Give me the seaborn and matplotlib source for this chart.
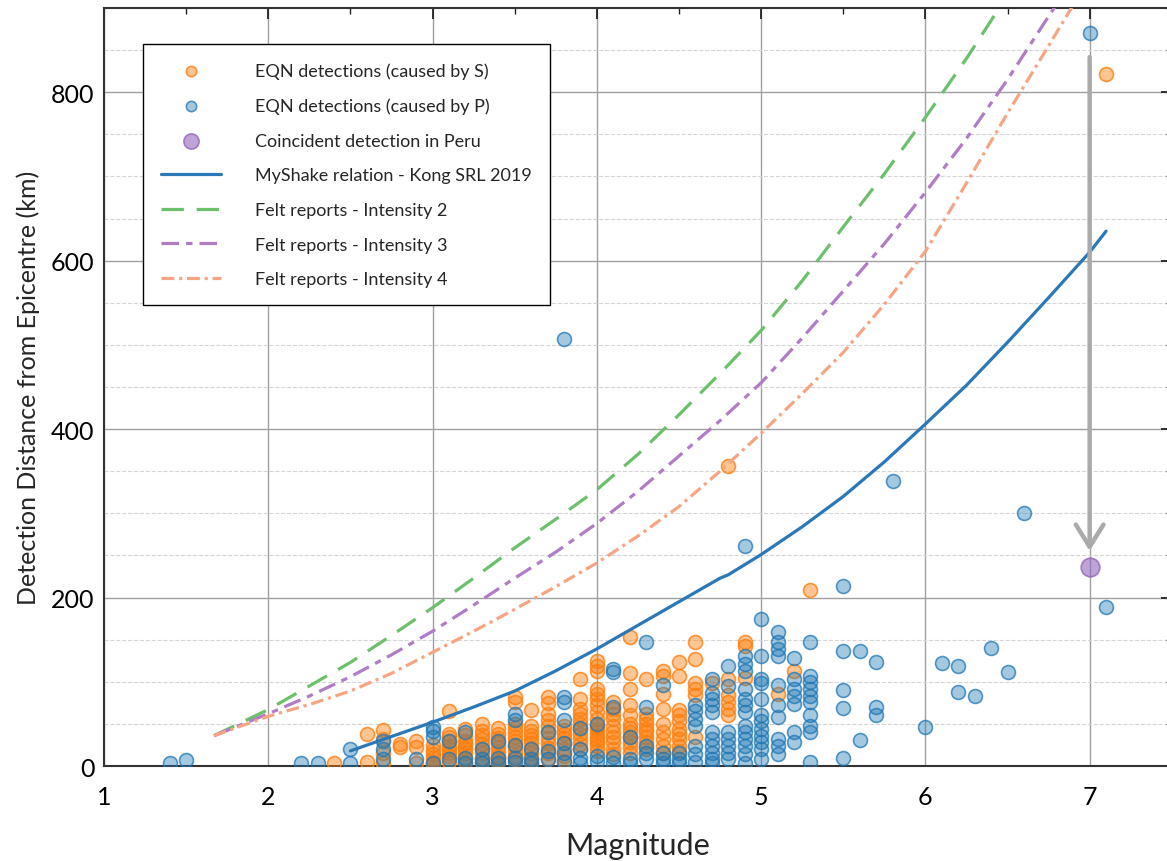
import pandas as pd
import matplotlib
matplotlib.use("Agg")
import matplotlib.pyplot as plt
from matplotlib.ticker import MultipleLocator
import seaborn as sns

# EQN detections caused by S waves: magnitude -> detection distances (km)
s_columns = {
    2.4: [3],
    2.6: [38, 5],
    2.7: [43, 32, 15, 3],
    2.8: [26, 22],
    2.9: [30, 22, 3],
    3.0: [25, 19, 14, 10, 5, 2],
    3.1: [65, 38, 34, 30, 24, 20, 16, 12, 5],
    3.2: [44, 37, 30, 27, 23, 20, 15, 10, 5],
    3.3: [50, 42, 37, 32, 26, 20, 16, 10, 5],
    3.4: [45, 38, 33, 27, 22, 17, 12, 8, 5],
    3.5: [82, 76, 50, 45, 40, 35, 30, 24, 18, 12, 8],
    3.6: [66, 48, 42, 37, 32, 27, 21, 15, 10, 5],
    3.7: [82, 75, 62, 55, 48, 40, 33, 27, 21, 15, 8],
    3.8: [48, 43, 38, 33, 27, 20, 12, 6],
    3.9: [103, 80, 68, 62, 56, 50, 44, 38, 32, 26, 20],
    4.0: [125, 119, 113, 91, 85, 80, 72, 64, 56, 48, 44, 40, 36, 32, 28, 24, 18],
    4.1: [76, 68, 62, 56, 48, 40, 34, 28, 20, 14],
    4.2: [153, 111, 91, 72, 60, 50, 45, 40, 34, 28, 22, 16],
    4.3: [103, 62, 56, 50, 44, 40, 34, 28, 20],
    4.4: [113, 107, 85, 68, 50, 40, 32, 24, 16],
    4.5: [123, 107, 66, 61, 53, 44, 38, 32, 24, 18],
    4.6: [147, 127, 99, 91, 84, 34],
    4.7: [99],
    4.8: [356, 103, 84, 76, 68, 60],
    4.9: [147, 142, 105],
    5.1: [85],
    5.2: [113],
    5.3: [209],
    7.1: [822],
}

# EQN detections caused by P waves
p_columns = {
    1.4: [3],
    1.5: [7],
    2.2: [3],
    2.3: [3],
    2.5: [20, 4],
    2.7: [30, 20, 8],
    2.9: [8],
    3.0: [46, 42, 35, 3],
    3.1: [30, 8],
    3.2: [40, 10, 3],
    3.3: [20, 8, 3],
    3.4: [30, 10, 3],
    3.5: [62, 55, 25, 10, 5],
    3.6: [20, 8, 3],
    3.7: [40, 18, 8],
    3.8: [507, 82, 76, 55, 27, 15, 5],
    3.9: [45, 20, 10, 3],
    4.0: [50, 12, 6],
    4.1: [115, 112, 70, 11, 3],
    4.2: [35, 8, 3],
    4.3: [147, 70, 24, 16, 8],
    4.4: [96, 16, 8, 3],
    4.5: [16, 8, 3],
    4.6: [72, 65, 56, 48, 24, 14, 5],
    4.7: [103, 87, 80, 72, 64, 40, 32, 24, 16, 8, 3],
    4.8: [119, 95, 40, 32, 24, 16, 8],
    4.9: [261, 131, 121, 113, 91, 80, 72, 64, 48, 40, 32, 24, 14, 4],
    5.0: [174, 131, 103, 99, 80, 60, 53, 44, 36, 28, 20, 8],
    5.1: [159, 147, 139, 131, 96, 72, 58, 32, 24, 14],
    5.2: [128, 103, 91, 83, 74, 40, 28],
    5.3: [147, 107, 100, 91, 83, 76, 60, 48, 40, 5],
    5.5: [214, 137, 90, 69, 10],
    5.6: [137, 31],
    5.7: [123, 70, 61],
    5.8: [338],
    6.0: [46],
    6.1: [122],
    6.2: [119, 88],
    6.3: [83],
    6.4: [140],
    6.5: [112],
    6.6: [300],
    7.0: [870],
    7.1: [189],
}

peru_mag = [7.0]
peru_dist = [236]

# relation curves
myshake_mag = [2.5, 2.75, 3.0, 3.25, 3.5, 3.75, 4.0, 4.25, 4.5, 4.75, 4.8, 5.0,
               5.25, 5.5, 5.75, 6.0, 6.25, 6.5, 6.75, 7.0, 7.1]
myshake_dist = [18, 35, 52, 70, 89, 113, 139, 167, 195, 223, 227, 251,
                284, 320, 361, 406, 452, 503, 556, 610, 635]

int2_mag = [1.67, 2.0, 2.25, 2.5, 2.75, 3.0, 3.25, 3.5, 3.75, 4.0, 4.25, 4.5,
            4.75, 5.0, 5.25, 5.5, 5.75, 6.0, 6.25, 6.45, 6.5]
int2_dist = [36, 67, 95, 123, 155, 188, 223, 259, 293, 328, 370, 417,
             466, 517, 576, 640, 703, 770, 840, 900, 915]

int3_mag = [1.67, 2.0, 2.25, 2.5, 2.75, 3.0, 3.25, 3.5, 3.75, 4.0, 4.25, 4.5,
            4.75, 5.0, 5.25, 5.5, 5.75, 6.0, 6.25, 6.5, 6.75, 6.8]
int3_dist = [36, 62, 83, 106, 132, 160, 191, 223, 254, 288, 326, 368,
             410, 455, 508, 564, 620, 681, 745, 815, 890, 905]

int4_mag = [1.67, 2.0, 2.25, 2.5, 2.75, 3.0, 3.25, 3.5, 3.75, 4.0, 4.25, 4.5,
            4.75, 5.0, 5.25, 5.5, 5.75, 6.0, 6.25, 6.5, 6.75, 6.95]
int4_dist = [36, 59, 73, 89, 110, 135, 160, 186, 213, 241, 273, 308,
             350, 395, 442, 491, 548, 611, 692, 775, 855, 920]


def expand(cols):
    rows = [(m, d) for m, ds in cols.items() for d in ds]
    return pd.DataFrame(rows, columns=['mag', 'dist'])


s_df = expand(s_columns)
p_df = expand(p_columns)

sns.set_style('white')
plt.rcParams['font.family'] = ['Lato', 'DejaVu Sans']

fig = plt.figure(figsize=(11.67, 8.62), dpi=100)
ax = fig.add_axes([0.0891, 0.1102, 0.915, 0.8794])

orange = (1.0, 0.498, 0.055)
blue = (0.122, 0.467, 0.706)
purple = (0.58, 0.4, 0.74)

sns.scatterplot(data=s_df, x='mag', y='dist', ax=ax, s=100,
                color=orange + (0.45,), edgecolor=orange + (0.8,), linewidth=1.2,
                label='EQN detections (caused by S)', zorder=3)
sns.scatterplot(data=p_df, x='mag', y='dist', ax=ax, s=100,
                color=blue + (0.4,), edgecolor=blue + (0.75,), linewidth=1.2,
                label='EQN detections (caused by P)', zorder=3)
sns.scatterplot(x=peru_mag, y=peru_dist, ax=ax, s=180,
                color=purple + (0.6,), edgecolor=purple + (0.8,),
                linewidth=1.2, label='Coincident detection in Peru', zorder=4)

sns.lineplot(x=myshake_mag, y=myshake_dist, ax=ax, color='#2b78b8', lw=2.3,
             label='MyShake relation - Kong SRL 2019', zorder=5)
sns.lineplot(x=int2_mag, y=int2_dist, ax=ax, color='#6cc06c', lw=2.3,
             linestyle=(0, (7, 4)), label='Felt reports - Intensity 2', zorder=5)
sns.lineplot(x=int3_mag, y=int3_dist, ax=ax, color='#b07cc6', lw=2.3,
             linestyle=(0, (5.5, 2.2, 2, 2.2)), label='Felt reports - Intensity 3', zorder=5)
sns.lineplot(x=int4_mag, y=int4_dist, ax=ax, color='#f6a584', lw=2.3,
             linestyle=(0, (4, 1.5, 1, 1.5)), label='Felt reports - Intensity 4', zorder=5)

# arrow pointing to the Peru detection
ax.annotate('', xy=(7.0, 252), xytext=(7.0, 845),
            arrowprops=dict(arrowstyle='->,head_length=0.8,head_width=0.5',
                            color='#aaaaaa', lw=3.2, mutation_scale=20),
            zorder=6)

ax.set_xlim(1, 7.5)
ax.set_ylim(0, 900)
ax.xaxis.set_major_locator(MultipleLocator(1))
ax.xaxis.set_minor_locator(MultipleLocator(0.5))
ax.yaxis.set_major_locator(MultipleLocator(200))
ax.yaxis.set_minor_locator(MultipleLocator(50))

ax.set_axisbelow(True)
ax.grid(which='major', color='#a0a0a0', lw=1.0)
ax.yaxis.grid(which='minor', color='#d6d6d6', ls='--', lw=0.8)

ax.tick_params(which='both', direction='in', top=True, right=True,
               colors='#222222', labelcolor='black')
ax.tick_params(which='major', length=8, width=1.3, labelsize=18)
ax.tick_params(which='minor', length=4, width=1.0)
ax.tick_params(axis='x', which='major', pad=14)
ax.tick_params(axis='y', which='major', pad=7)
for sp in ax.spines.values():
    sp.set_color('#333333')
    sp.set_linewidth(1.5)

ax.set_xlabel('Magnitude', fontsize=22, labelpad=16)
ax.set_ylabel('Detection Distance from Epicentre (km)', fontsize=18, labelpad=8)

leg = ax.legend(loc='upper left', bbox_to_anchor=(0.0365, 0.952), borderaxespad=0,
                fontsize=13, frameon=True, fancybox=False, framealpha=1,
                edgecolor='black', handlelength=3.3, handletextpad=1.9,
                labelspacing=1.03, borderpad=1.0)
leg.get_frame().set_linewidth(1.0)
handles = leg.legend_handles
handles[0].set_sizes([55])
handles[1].set_sizes([55])
handles[2].set_sizes([120])

fig.savefig('out.png', dpi=100)
